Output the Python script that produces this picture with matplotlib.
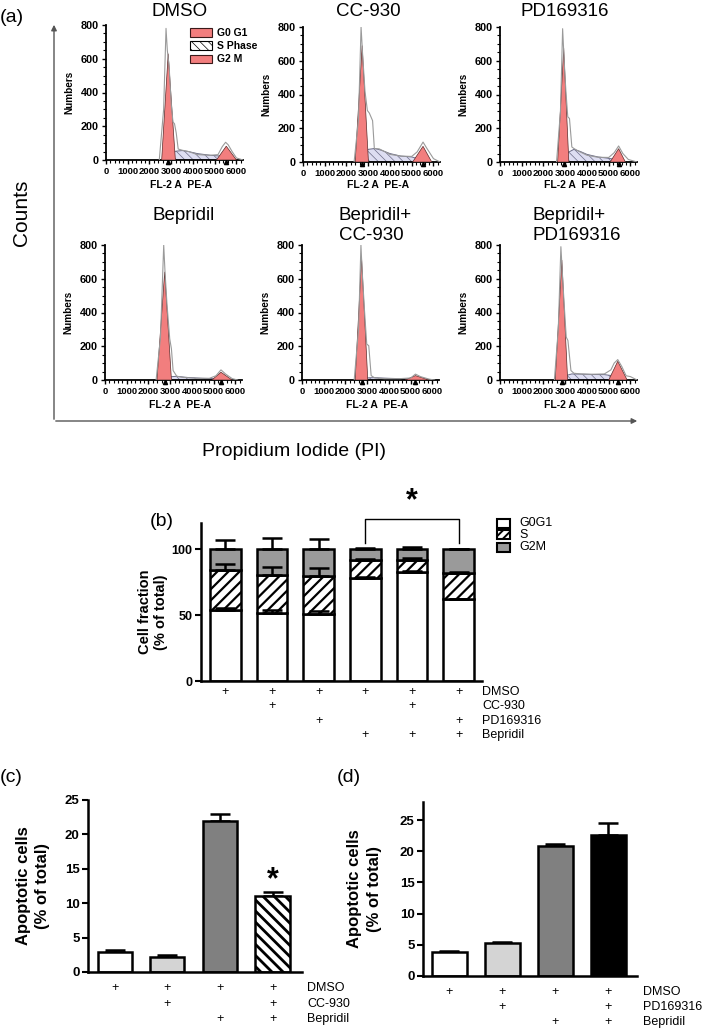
import matplotlib
matplotlib.use("Agg")
import matplotlib.pyplot as plt
import matplotlib.transforms as mtransforms
from matplotlib.patches import Patch, Rectangle
from matplotlib.ticker import MultipleLocator

plt.rcParams['font.family'] = ['Liberation Sans', 'DejaVu Sans']
plt.rcParams['hatch.linewidth'] = 0.5

W, H = 709, 1034

# ---------------- (a) cell cycle histograms ----------------
hist_titles = ['DMSO', 'CC-930', 'PD169316', 'Bepridil', 'Bepridil+\nCC-930', 'Bepridil+\nPD169316']

# gray raw outline
dmso_line_x = [2450, 2650, 2760, 2820, 2900, 3000, 3080, 3150, 3230, 3320, 3500, 3800, 4200, 4800, 5150, 5350, 5500, 5620, 5800, 6000, 6300]
dmso_line_y = [0, 300, 780, 650, 560, 330, 225, 215, 160, 65, 58, 50, 32, 28, 32, 80, 105, 90, 50, 12, 0]
cc_line_x = [2350, 2550, 2670, 2740, 2850, 2960, 3050, 3200, 3280, 3500, 3700, 4000, 4500, 5000, 5250, 5520, 5700, 6000, 6300]
cc_line_y = [0, 250, 800, 640, 420, 305, 290, 245, 80, 78, 65, 45, 35, 33, 60, 118, 80, 20, 0]
pd_line_x = [2600, 2780, 2880, 2950, 3030, 3117, 3195, 3304, 3400, 3600, 4000, 4500, 5000, 5250, 5455, 5650, 5900, 6300]
pd_line_y = [0, 300, 790, 600, 420, 268, 258, 89, 80, 65, 40, 28, 27, 55, 95, 50, 15, 0]
bep_line_x = [2350, 2550, 2700, 2760, 2850, 2977, 3054, 3132, 3300, 3600, 4200, 4800, 5100, 5333, 5550, 5850, 6100]
bep_line_y = [0, 250, 800, 640, 450, 244, 185, 56, 22, 15, 10, 10, 25, 60, 35, 8, 0]
bepcc_line_x = [2400, 2600, 2710, 2760, 2870, 2977, 3070, 3180, 3350, 3800, 4500, 5000, 5216, 5450, 5850, 6100]
bepcc_line_y = [0, 300, 800, 660, 420, 213, 203, 26, 12, 8, 8, 12, 35, 20, 5, 0]
beppd_line_x = [2500, 2680, 2800, 2860, 2950, 3046, 3123, 3262, 3400, 3700, 4200, 4800, 5100, 5250, 5415, 5600, 5800, 6000, 6300]
beppd_line_y = [0, 300, 790, 650, 450, 254, 234, 56, 40, 36, 34, 36, 60, 100, 121, 80, 25, 20, 0]

# G0/G1 and G2/M fitted peaks: left base, apex position, right base, apex height
dmso_g1, dmso_g2 = [2560, 2860, 3190, 630], [5080, 5530, 6000, 82]
cc_g1, cc_g2 = [2400, 2720, 3010, 690], [5040, 5520, 5920, 93]
pd_g1, pd_g2 = [2650, 2930, 3165, 675], [5065, 5455, 5766, 79]
bep_g1, bep_g2 = [2390, 2745, 3055, 641], [4915, 5333, 5845, 46]
bepcc_g1, bepcc_g2 = [2445, 2740, 3025, 725], [4747, 5216, 5843, 26]
beppd_g1, beppd_g2 = [2540, 2845, 3110, 711], [5000, 5415, 5846, 111]

# S phase fit
dmso_s_x = [2650, 2900, 3200, 3500, 3800, 4200, 4800, 5200, 5500, 5800]
dmso_s_y = [0, 30, 52, 56, 50, 38, 28, 24, 15, 0]
cc_s_x = [2500, 2800, 3000, 3300, 3600, 4000, 4500, 5000, 5400, 5700]
cc_s_y = [0, 45, 75, 80, 70, 50, 35, 30, 15, 0]
pd_s_x = [2800, 3100, 3400, 3700, 4000, 4500, 5000, 5300, 5600]
pd_s_y = [0, 55, 75, 62, 45, 30, 22, 15, 0]
bep_s_x = [2550, 2900, 3300, 3800, 4500, 5000, 5500]
bep_s_y = [0, 18, 22, 15, 10, 8, 0]
bepcc_s_x = [2550, 2900, 3300, 4000, 4800, 5400]
bepcc_s_y = [0, 12, 14, 10, 7, 0]
beppd_s_x = [2700, 3000, 3300, 3700, 4200, 4800, 5200, 5600]
beppd_s_y = [0, 25, 36, 35, 33, 32, 25, 0]

panels = [
    (dmso_line_x, dmso_line_y, dmso_g1, dmso_g2, dmso_s_x, dmso_s_y),
    (cc_line_x, cc_line_y, cc_g1, cc_g2, cc_s_x, cc_s_y),
    (pd_line_x, pd_line_y, pd_g1, pd_g2, pd_s_x, pd_s_y),
    (bep_line_x, bep_line_y, bep_g1, bep_g2, bep_s_x, bep_s_y),
    (bepcc_line_x, bepcc_line_y, bepcc_g1, bepcc_g2, bepcc_s_x, bepcc_s_y),
    (beppd_line_x, beppd_line_y, beppd_g1, beppd_g2, beppd_s_x, beppd_s_y),
]

# ---------------- (b) cell cycle fractions ----------------
b_g0g1 = [53.5, 51.7, 51.0, 78.0, 82.5, 62.0]
b_s = [30.3, 28.6, 28.5, 13.5, 9.2, 20.0]
b_g2m = [16.2, 19.7, 20.5, 8.5, 8.3, 18.0]
b_g0g1_err = [1.5, 1.8, 2.0, 0.8, 0.8, 0.5]
b_s_err = [4.5, 5.8, 5.8, 0.8, 1.8, 0.5]
b_g2m_err = [7.0, 8.0, 7.6, 0.8, 1.5, 0.3]
b_rows = ['DMSO', 'CC-930', 'PD169316', 'Bepridil']
b_plus = [[1, 1, 1, 1, 1, 1], [0, 1, 0, 0, 1, 0], [0, 0, 1, 0, 0, 1], [0, 0, 0, 1, 1, 1]]

# ---------------- (c) and (d) apoptosis ----------------
c_values = [2.9, 2.2, 21.9, 11.0]
c_err = [0.3, 0.3, 1.0, 0.6]
c_rows = ['DMSO', 'CC-930', 'Bepridil']
d_values = [3.8, 5.2, 20.9, 22.7]
d_err = [0.2, 0.3, 0.3, 1.8]
d_rows = ['DMSO', 'PD169316', 'Bepridil']
cd_plus = [[1, 1, 1, 1], [0, 1, 0, 1], [0, 0, 1, 1]]


def rect(l, t, w, h):
    return [l / W, 1 - (t + h) / H, w / W, h / H]


fig = plt.figure(figsize=(W / 100, H / 100), dpi=100)
top_px = mtransforms.Affine2D().scale(1 / W, -1 / H).translate(0, 1) + fig.transFigure

RED = '#f27e7e'
NARROW = ['Liberation Sans Narrow', 'Liberation Sans', 'DejaVu Sans']
hist_pos = [(106, 25), (303, 27), (500, 27), (105, 245), (302, 245), (500, 245)]
label_y = [185, 185, 185, 405, 405, 405]

for k, (lx, ly, g1, g2, sx, sy) in enumerate(panels):
    l, t = hist_pos[k]
    ax = fig.add_axes(rect(l, t, 137, 135))
    ax.fill(sx, sy, facecolor='#dedef2', edgecolor='#6c6c88', hatch='\\\\\\\\', lw=0.7, zorder=2)
    for g in (g1, g2):
        ax.fill([g[0], g[1], g[2]], [0, g[3], 0], facecolor=RED, edgecolor='#5a2a2a', lw=0.5, zorder=3)
    ax.plot(lx, ly, color='#9a9a9a', lw=0.8, zorder=4)
    ax.plot([g1[1], g2[1]], [-14, -14], ls='none', marker='^', ms=3, color='k', clip_on=False, zorder=5)
    ax.set_xlim(0, 6300)
    ax.set_ylim(0, 800)
    ax.spines[['top', 'right']].set_visible(False)
    for s in ('left', 'bottom'):
        ax.spines[s].set_linewidth(1.3)
    ax.set_xticks(range(0, 6001, 1000))
    ax.set_yticks(range(0, 801, 200))
    ax.xaxis.set_minor_locator(MultipleLocator(200))
    ax.yaxis.set_minor_locator(MultipleLocator(50))
    ax.tick_params(which='major', length=3, width=1, pad=2)
    ax.tick_params(which='minor', length=2, width=0.8)
    for lab in ax.get_xticklabels():
        lab.set_fontweight('bold')
        lab.set_fontsize(6.8)
        lab.set_family(NARROW)
    for lab in ax.get_yticklabels():
        lab.set_fontweight('bold')
        lab.set_fontsize(7.8)
    ax.text(-0.265, 0.5, 'Numbers', transform=ax.transAxes, rotation=90, ha='center', va='center',
            fontsize=7.2, fontweight='bold')
    fig.text((l + 75) / W, 1 - label_y[k] / H, 'FL-2 A  PE-A', ha='center', va='center',
             fontsize=7.5, fontweight='bold')
    if k == 0:
        handles = [Patch(facecolor=RED, edgecolor='#3a1a1a', lw=0.8),
                   Patch(facecolor='white', edgecolor='k', hatch='\\\\\\\\', lw=0.8),
                   Patch(facecolor=RED, edgecolor='#3a1a1a', lw=0.8)]
        ax.legend(handles, ['G0 G1', 'S Phase', 'G2 M'], loc='upper left', bbox_to_anchor=(0.56, 1.03),
                  frameon=False, handlelength=2.1, handleheight=0.9, labelspacing=0.3, handletextpad=0.5,
                  borderpad=0.2, prop={'size': 7.5, 'weight': 'bold'})

# titles of (a)
title_pos = [(180, 11, 'center'), (368, 11, 'center'), (565, 11, 'center'),
             (184, 215, 'center'), (339, 215, 'left'), (533, 215, 'left')]
for (x, y, ha), title in zip(title_pos, hist_titles):
    for j, line in enumerate(title.split('\n')):
        fig.text(x / W, 1 - (y + 21 * j) / H, line, ha=ha, va='center', fontsize=13.5)


def style_bar_axes(ax, ticks, size):
    ax.spines[['top', 'right']].set_visible(False)
    for s in ('left', 'bottom'):
        ax.spines[s].set_linewidth(1.8)
    ax.set_xticks([])
    ax.set_yticks(ticks)
    ax.tick_params(axis='y', length=4, width=1.5, labelsize=size, pad=2)
    for lab in ax.get_yticklabels():
        lab.set_fontweight('bold')


def plus_table(ax, plus, rows, row_y, label_x):
    tr = mtransforms.blended_transform_factory(ax.transData, top_px)
    for r, (flags, name, y) in enumerate(zip(plus, rows, row_y)):
        for i, f in enumerate(flags):
            if f:
                ax.text(i, y, '+', transform=tr, ha='center', va='center', fontsize=9)
        fig.text(label_x / W, 1 - y / H, name, ha='left', va='center', fontsize=9)


# ---------------- (b) ----------------
axb = fig.add_axes(rect(201, 522.6, 281, 158.4))
xb = list(range(6))
bw = 0.66
s_bottom = b_g0g1
g2_bottom = [a + b for a, b in zip(b_g0g1, b_s)]
axb.bar(xb, b_g0g1, bw, color='white', edgecolor='k', lw=1.8, zorder=2)
sb = axb.bar(xb, b_s, bw, bottom=s_bottom, color='white', edgecolor='k', lw=1.8, hatch='///', zorder=2)
axb.bar(xb, b_g2m, bw, bottom=g2_bottom, color='#9a9a9a', edgecolor='k', lw=1.8, zorder=2)
for p in sb:
    if hasattr(p, 'set_hatch_linewidth'):
        p.set_hatch_linewidth(1.6)
tops = [b_g0g1, g2_bottom, [100] * 6]
for top, err in zip(tops, [b_g0g1_err, b_s_err, b_g2m_err]):
    axb.errorbar(xb, top, yerr=[[0] * 6, err], fmt='none', ecolor='k', elinewidth=1.8, capsize=7,
                 capthick=1.8, zorder=3)
axb.plot([3, 3, 5, 5], [104.5, 123, 123, 104.5], color='k', lw=1, clip_on=False)
axb.text(4, 136, '*', ha='center', va='center', fontsize=22, fontweight='bold', clip_on=False)
axb.set_xlim(-0.52, 5.5)
axb.set_ylim(0, 120)
style_bar_axes(axb, [0, 50, 100], 9)
plus_table(axb, b_plus, b_rows, [692, 706, 721, 735], 482)

# ---------------- (c) ----------------
axc = fig.add_axes(rect(88, 800, 214, 172))
xc = list(range(4))
bars = axc.bar(xc, c_values, 0.65, color=['white', '#d4d4d4', '#808080', 'white'], edgecolor='k', lw=1.8, zorder=2)
bars[3].set_hatch('\\\\\\')
if hasattr(bars[3], 'set_hatch_linewidth'):
    bars[3].set_hatch_linewidth(2.0)
axc.errorbar(xc, c_values, yerr=[[0] * 4, c_err], fmt='none', ecolor='k', elinewidth=1.8, capsize=7,
             capthick=1.8, zorder=1)
axc.text(3, 13.4, '*', ha='center', va='center', fontsize=22, fontweight='bold')
axc.set_xlim(-0.51, 3.56)
axc.set_ylim(0, 25)
style_bar_axes(axc, range(0, 26, 5), 9.5)
plus_table(axc, cd_plus, c_rows, [988, 1004, 1019], 307)

# ---------------- (d) ----------------
axd = fig.add_axes(rect(423, 801.7, 214, 174))
axd.bar(xc, d_values, 0.66, color=['white', '#d4d4d4', '#808080', 'black'], edgecolor='k', lw=1.8, zorder=2)
axd.errorbar(xc, d_values, yerr=[[0] * 4, d_err], fmt='none', ecolor='k', elinewidth=1.8, capsize=7,
             capthick=1.8, zorder=1)
axd.set_xlim(-0.5, 3.54)
axd.set_ylim(0, 28)
style_bar_axes(axd, range(0, 26, 5), 9.5)
plus_table(axd, cd_plus, d_rows, [992, 1007, 1022], 643)

# ---------------- figure level annotations ----------------
ov = fig.add_axes([0, 0, 1, 1])
ov.set_xlim(0, W)
ov.set_ylim(H, 0)
ov.axis('off')
ov.set_zorder(10)
ov.annotate('', xy=(54, 22), xytext=(54, 422), arrowprops=dict(arrowstyle='-|>', lw=1, color='#555555', mutation_scale=8))
ov.annotate('', xy=(640, 421), xytext=(53, 421), arrowprops=dict(arrowstyle='-|>', lw=1, color='#555555', mutation_scale=8))
ov.text(0, 17, '(a)', fontsize=14, va='center', ha='left')
ov.text(22, 213, 'Counts', fontsize=15, rotation=90, va='center', ha='center')
ov.text(294, 452, 'Propidium Iodide (PI)', fontsize=14, va='center', ha='center')

ov.text(150, 522, '(b)', fontsize=14, va='center', ha='left')
ov.text(145, 612, 'Cell fraction', fontsize=10.5, fontweight='bold', rotation=90, va='center', ha='center')
ov.text(161, 612, '(% of total)', fontsize=10.5, fontweight='bold', rotation=90, va='center', ha='center')
leg_y = [523, 534.5, 547]
leg_hatch = ['', '////', '']
leg_col = ['white', 'white', '#9a9a9a']
for y, txt, hch, col in zip(leg_y, ['G0G1', 'S', 'G2M'], leg_hatch, leg_col):
    r = Rectangle((497, y - 4.5), 13, 9, facecolor=col, edgecolor='k', lw=1.5, hatch=hch)
    if hch and hasattr(r, 'set_hatch_linewidth'):
        r.set_hatch_linewidth(1.4)
    ov.add_patch(r)
    ov.text(519, y, txt, fontsize=9, va='center', ha='left')

ov.text(0, 777, '(c)', fontsize=14, va='center', ha='left')
ov.text(24, 886, 'Apoptotic cells', fontsize=12, fontweight='bold', rotation=90, va='center', ha='center')
ov.text(42, 886, '(% of total)', fontsize=12, fontweight='bold', rotation=90, va='center', ha='center')
ov.text(337, 777, '(d)', fontsize=14, va='center', ha='left')
ov.text(355, 889, 'Apoptotic cells', fontsize=12, fontweight='bold', rotation=90, va='center', ha='center')
ov.text(374, 889, '(% of total)', fontsize=12, fontweight='bold', rotation=90, va='center', ha='center')

fig.savefig('out.png', dpi=100)
